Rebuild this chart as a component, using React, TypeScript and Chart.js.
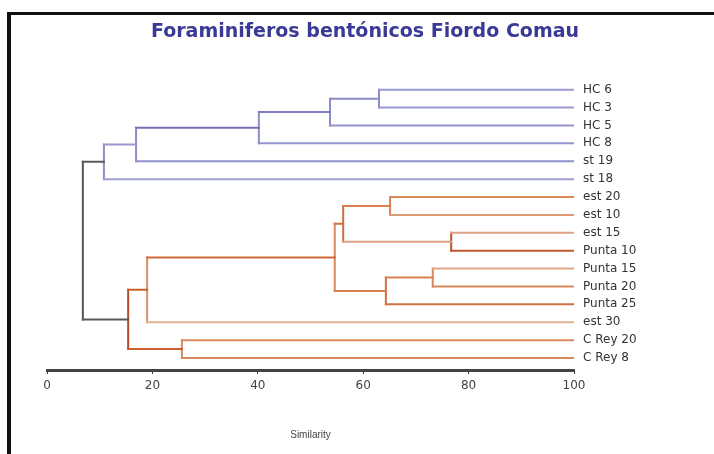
import React, { useEffect, useRef } from "react";
import { Chart, registerables } from "chart.js";

Chart.register(...registerables);

// Leaves (top to bottom)
const leafLabels = [
  "HC 6", "HC 3", "HC 5", "HC 8", "st 19", "st 18",
  "est 20", "est 10", "est 15", "Punta 10", "Punta 15", "Punta 20",
  "Punta 25", "est 30", "C Rey 20", "C Rey 8",
];

// Merges: node ids 16.. follow leaves (0..15)
const mergeLeft = [0, 16, 17, 18, 19, 6, 8, 21, 10, 24, 23, 26, 14, 27, 20];
const mergeRight = [1, 2, 3, 4, 5, 7, 9, 22, 11, 12, 25, 13, 15, 28, 29];
const mergeSimilarity = [63.0, 53.7, 40.2, 16.9, 10.8, 65.1, 76.7, 56.2, 73.2, 64.3, 54.6, 19.0, 25.6, 15.4, 6.8];

const xTicks = [0, 20, 40, 60, 80, 100];

// Styles: colour of each node's horizontal link (index = node id), and of each merge's vertical
const linkColors = [
  "#9a9ad2", "#9a9ad2", "#9494ce", "#9494ce", "#9090cb", "#9e9ed4",
  "#d98a5c", "#dc9a72", "#dda282", "#c4582c", "#e0a888", "#d98a5c",
  "#cf7040", "#e0b090", "#d98a5c", "#d98a5c",
  "#8c8cc8", "#7e7ebf", "#7070b2", "#9a9ad0", "#5a5a5a",
  "#d98050", "#dca080", "#d07040", "#d98050", "#d98050", "#cf6a36",
  "#c8602e", "#c8602e", "#5a5a5a",
];
const verticalColors = [
  "#8c8cc8", "#8c8cc8", "#8c8cc8", "#8c8cc8", "#8c8cc8",
  "#d98050", "#c0552a", "#d07040", "#d98a5c", "#cf7040", "#d98a5c",
  "#d9905f", "#d98a5c", "#b84a28", "#555555",
];

export default function App() {
  const ref = useRef<HTMLCanvasElement | null>(null);

  useEffect(() => {
    if (!ref.current) return;
    const n = leafLabels.length;
    const nodeY: number[] = leafLabels.map((_, i) => i);
    const nodeSim: number[] = leafLabels.map(() => 100);
    const parentSim: number[] = [];
    mergeLeft.forEach((a, k) => {
      const b = mergeRight[k];
      const id = n + k;
      nodeY[id] = (nodeY[a] + nodeY[b]) / 2;
      nodeSim[id] = mergeSimilarity[k];
      parentSim[a] = mergeSimilarity[k];
      parentSim[b] = mergeSimilarity[k];
    });

    const datasets: any[] = [];
    for (let id = 0; id < nodeY.length; id++) {
      if (parentSim[id] === undefined) continue;
      datasets.push({
        data: [
          { x: nodeSim[id], y: nodeY[id] },
          { x: parentSim[id], y: nodeY[id] },
        ],
        borderColor: linkColors[id],
        borderWidth: 2,
      });
    }
    mergeLeft.forEach((a, k) => {
      const b = mergeRight[k];
      datasets.push({
        data: [
          { x: mergeSimilarity[k], y: nodeY[a] },
          { x: mergeSimilarity[k], y: nodeY[b] },
        ],
        borderColor: verticalColors[k],
        borderWidth: 2,
      });
    });
    datasets.forEach((d) => {
      d.showLine = true;
      d.pointRadius = 0;
      d.borderCapStyle = "square";
      d.fill = false;
    });

    const framePlugin = {
      id: "frame",
      beforeDraw(chart: any) {
        const ctx = chart.ctx;
        ctx.save();
        ctx.fillStyle = "#ffffff";
        ctx.fillRect(0, 0, chart.width, chart.height);
        ctx.fillStyle = "#111111";
        ctx.fillRect(7, 12, 4, chart.height - 12);
        ctx.fillRect(7, 12, chart.width - 7, 3);
        ctx.restore();
      },
    };

    const chart = new Chart(ref.current, {
      type: "scatter",
      data: { datasets },
      plugins: [framePlugin],
      options: {
        animation: false,
        responsive: false,
        layout: { padding: { left: 47, right: 31, top: 9, bottom: 10 } },
        plugins: {
          legend: { display: false },
          tooltip: { enabled: false },
          title: {
            display: true,
            text: "Foraminiferos bentónicos Fiordo Comau",
            color: "#3a3a96",
            font: { family: "DejaVu Sans", size: 19, weight: "bold" },
            padding: { top: 12, bottom: 28 },
          },
        },
        scales: {
          x: {
            type: "linear",
            min: 0,
            max: 100,
            afterBuildTicks: (scale: any) => {
              scale.ticks = xTicks.map((v) => ({ value: v }));
            },
            afterFit: (scale: any) => {
              scale.height = 74;
            },
            ticks: {
              color: "#444444",
              font: { family: "DejaVu Sans", size: 12 },
              padding: 5,
              maxRotation: 0,
            },
            grid: {
              drawOnChartArea: false,
              drawTicks: true,
              tickLength: 4,
              color: "#333333",
            },
            border: { display: true, width: 3, color: "#444444" },
            title: {
              display: true,
              text: "Similarity",
              color: "#444444",
              font: { family: "Liberation Sans", size: 10 },
              padding: { top: 0, bottom: 3 },
            },
          },
          y: {
            type: "linear",
            position: "right",
            reverse: true,
            min: -1,
            max: 15.67,
            afterBuildTicks: (scale: any) => {
              scale.ticks = leafLabels.map((_, i) => ({ value: i }));
            },
            afterFit: (scale: any) => {
              scale.width = 109;
            },
            ticks: {
              autoSkip: false,
              color: "#333333",
              font: { family: "DejaVu Sans", size: 12 },
              padding: 9,
              callback: (v: any) => leafLabels[v as number] ?? "",
            },
            grid: { display: false, drawTicks: false },
            border: { display: false },
          },
        },
      },
    });
    return () => chart.destroy();
  }, []);

  return (
    <div style={{ position: "fixed", left: 0, top: 0, width: 714, height: 454, background: "#fff" }}>
      <canvas ref={ref} width={714} height={454} style={{ display: "block" }} />
    </div>
  );
}
